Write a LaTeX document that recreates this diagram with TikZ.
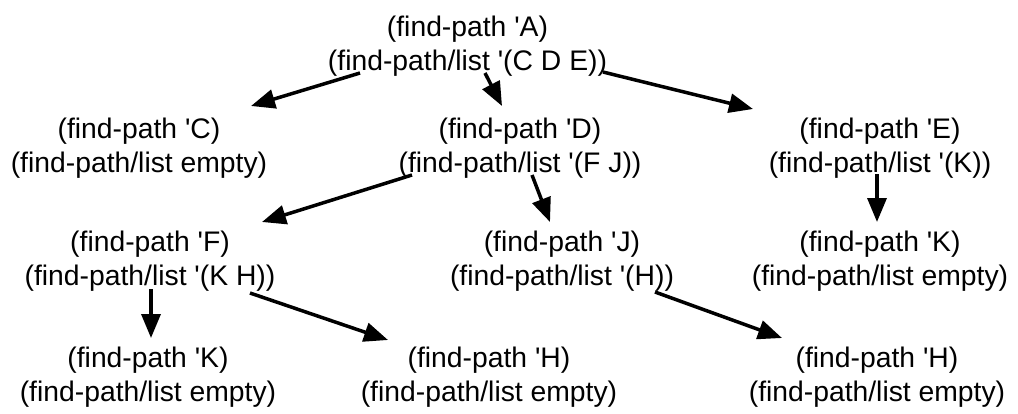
\documentclass[tikz,border=0pt]{standalone}
\usepackage{fontspec}
\newfontfamily\lib{Liberation Sans}
\usetikzlibrary{arrows.meta}
\begin{document}
\begin{tikzpicture}[x=1pt,y=-1pt,
  call/.style={align=center,inner sep=0pt,font=\lib\fontsize{28.3}{34}\selectfont},
  arr/.style={line width=3.5pt,-{Triangle[length=24pt,width=19pt]}}]
\useasboundingbox (0,0) rectangle (1018,413);
\node[call] (A)  at (467.5,45.7)  {(find-path 'A)\\(find-path/list '(C D E))};
\node[call] (C)  at (139,148.2)   {(find-path 'C)\\(find-path/list empty)};
\node[call] (D)  at (520,148.2)   {(find-path 'D)\\(find-path/list '(F J))};
\node[call] (E)  at (880,148.2)   {(find-path 'E)\\(find-path/list '(K))};
\node[call] (F)  at (150,261.2)   {(find-path 'F)\\(find-path/list '(K H))};
\node[call] (J)  at (562,261.2)   {(find-path 'J)\\(find-path/list '(H))};
\node[call] (K1) at (880,261.2)   {(find-path 'K)\\(find-path/list empty)};
\node[call] (K2) at (148,376.7)   {(find-path 'K)\\(find-path/list empty)};
\node[call] (H1) at (489,376.7)   {(find-path 'H)\\(find-path/list empty)};
\node[call] (H2) at (877,376.7)   {(find-path 'H)\\(find-path/list empty)};
\draw[arr] ([shift={(-107.5,27.3)}]A.center) -- ([shift={(112,-42.2)}]C.center);
\draw[arr] ([shift={(17.5,27.3)}]A.center) -- ([shift={(-18,-42.2)}]D.center);
\draw[arr] ([shift={(135.5,26.3)}]A.center) -- ([shift={(-127,-39.2)}]E.center);
\draw[arr] ([shift={(-108,26.8)}]D.center) -- ([shift={(112,-39.2)}]F.center);
\draw[arr] ([shift={(12,26.8)}]D.center) -- ([shift={(-12,-39.2)}]J.center);
\draw[arr] ([shift={(-3,25.8)}]E.center) -- ([shift={(-3,-39.2)}]K1.center);
\draw[arr] ([shift={(1,27.8)}]F.center) -- ([shift={(3,-38.7)}]K2.center);
\draw[arr] ([shift={(100,31.8)}]F.center) -- ([shift={(-101,-36.7)}]H1.center);
\draw[arr] ([shift={(93,30.8)}]J.center) -- ([shift={(-95,-38.7)}]H2.center);
\end{tikzpicture}
\end{document}
